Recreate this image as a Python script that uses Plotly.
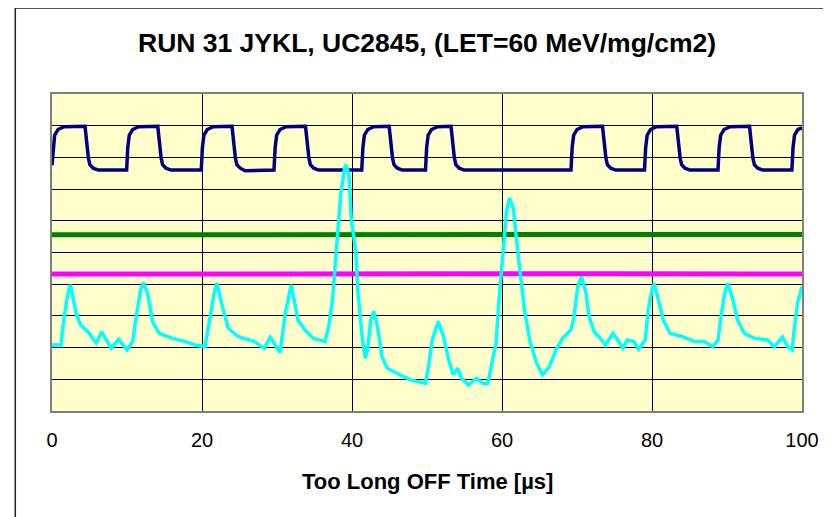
import plotly.graph_objects as go

# ---- data ----
title_text = "RUN 31 JYKL, UC2845, (LET=60 MeV/mg/cm2)"
x_title = "Too Long OFF Time [µs]"
x_ticks = [0, 20, 40, 60, 80, 100]

blue_t = [0.0, 0.15, 0.35, 0.8, 1.6, 4.4, 4.6, 4.85, 5.05, 5.5, 6.15,
          9.95, 10.1, 10.3, 10.75, 11.55, 14.1, 14.3, 14.55, 14.75, 15.2, 15.85,
          19.9, 20.05, 20.25, 20.7, 21.5, 24.0, 24.2, 24.45, 24.65, 25.1, 25.75,
          29.6, 29.75, 29.95, 30.4, 31.2, 33.8, 34.0, 34.25, 34.45, 34.9, 35.55,
          41.3, 41.45, 41.65, 42.1, 42.9, 44.95, 45.15, 45.4, 45.6, 46.05, 46.7,
          49.8, 49.95, 50.15, 50.6, 51.4, 53.2, 53.4, 53.65, 53.85, 54.3, 54.95,
          69.2, 69.35, 69.55, 70.0, 70.8, 73.4, 73.6, 73.85, 74.05, 74.5, 75.15,
          79.0, 79.15, 79.35, 79.8, 80.6, 83.3, 83.5, 83.75, 83.95, 84.4, 85.05,
          88.8, 88.95, 89.15, 89.6, 90.4, 93.0, 93.2, 93.45, 93.65, 94.1, 94.75,
          98.65, 98.8, 99.0, 99.45, 100.0]
blue_v = [7.75, 8.35, 8.7, 8.88, 8.97, 8.98, 8.45, 7.98, 7.77, 7.66, 7.6,
          7.6, 8.3, 8.7, 8.88, 8.97, 8.98, 8.45, 7.98, 7.77, 7.66, 7.6,
          7.6, 8.3, 8.7, 8.88, 8.97, 8.98, 8.45, 7.98, 7.77, 7.66, 7.58,
          7.6, 8.3, 8.7, 8.88, 8.97, 8.98, 8.45, 7.98, 7.77, 7.66, 7.6,
          7.6, 8.3, 8.7, 8.88, 8.97, 8.98, 8.45, 7.98, 7.77, 7.66, 7.6,
          7.6, 8.3, 8.7, 8.88, 8.97, 8.98, 8.45, 7.98, 7.77, 7.66, 7.6,
          7.6, 8.3, 8.7, 8.88, 8.97, 8.98, 8.45, 7.98, 7.77, 7.66, 7.6,
          7.6, 8.3, 8.7, 8.88, 8.97, 8.98, 8.45, 7.98, 7.77, 7.66, 7.6,
          7.6, 8.3, 8.7, 8.88, 8.97, 8.98, 8.45, 7.98, 7.77, 7.66, 7.6,
          7.6, 8.3, 8.7, 8.88, 8.93]

green_t = [0, 25, 50, 75, 100]
green_v = [5.56, 5.56, 5.57, 5.57, 5.57]

magenta_t = [0, 25, 50, 75, 100]
magenta_v = [4.32, 4.33, 4.31, 4.33, 4.32]

cyan_t = [0.0, 1.2, 1.6, 2.2, 2.47, 2.8, 3.2, 3.8, 4.8, 5.9, 6.6, 7.9, 8.9, 9.97,
          10.76, 11.3, 11.8, 12.17, 12.74, 13.4, 14.3, 16.05, 17.8, 19.1, 20.4,
          21.1, 21.6, 22.0, 22.6, 23.5, 24.8, 27.0, 28.3, 29.1, 30.4, 31.1, 31.9,
          32.8, 33.7, 34.9, 36.4, 36.9, 37.4, 37.9, 38.5, 39.0, 39.2, 39.6, 39.9,
          40.5, 40.8, 41.4, 41.8, 42.1, 42.5, 42.9, 43.4, 44.0, 44.7, 46.0, 47.8,
          49.8, 50.2, 50.7, 51.5, 52.2, 52.9, 53.5, 54.1, 54.6, 55.5, 56.6, 57.5,
          58.1, 58.6, 59.2, 59.6, 60.1, 60.6, 61.0, 61.5, 62.1, 62.6, 63.0, 63.7,
          64.6, 65.4, 66.3, 67.2, 68.1, 69.2, 69.6, 70.1, 70.6, 71.2, 71.6, 72.3,
          72.9, 73.8, 74.8, 75.3, 76.1, 76.7, 77.6, 78.2, 79.1, 79.5, 80.0, 80.3,
          80.9, 81.5, 82.4, 84.0, 85.7, 87.0, 88.1, 88.8, 89.2, 89.7, 90.1, 90.8,
          91.4, 92.3, 93.7, 95.4, 96.3, 97.4, 98.1, 98.7, 98.9, 99.4, 100.0]
cyan_v = [2.08, 2.08, 2.95, 3.8, 3.98, 3.6, 3.1, 2.72, 2.5, 2.14, 2.5, 1.98, 2.26, 1.93,
          2.19, 3.08, 3.8, 4.05, 3.72, 2.82, 2.45, 2.29, 2.19, 2.08, 2.03,
          2.98, 3.7, 4.03, 3.4, 2.61, 2.35, 2.19, 1.98, 2.33, 1.84, 3.08, 3.98,
          2.87, 2.56, 2.29, 2.19, 2.66, 3.5, 5.06, 6.82, 7.66, 7.77, 7.45, 6.08,
          5.03, 3.72, 2.24, 1.66, 1.98, 2.87, 3.14, 2.66, 1.71, 1.35, 1.19, 0.98,
          0.87, 1.4, 2.24, 2.82, 2.35, 1.61, 1.14, 1.35, 1.03, 0.82, 1.03, 0.87,
          0.87, 1.4, 2.14, 3.5, 5.05, 6.29, 6.72, 6.4, 5.03, 4.03, 3.19, 2.24,
          1.51, 1.14, 1.4, 1.93, 2.3, 2.56, 2.98, 3.93, 4.24, 3.72, 2.98, 2.5,
          2.35, 2.08, 2.45, 2.29, 1.98, 2.24, 2.19, 1.95, 2.24, 3.19, 3.82, 4.03,
          3.5, 2.87, 2.45, 2.35, 2.19, 2.19, 2.03, 2.24, 2.98, 3.72, 4.03, 3.5,
          2.87, 2.45, 2.29, 2.24, 2.03, 2.33, 2.03, 1.93, 2.45, 3.4, 3.93]

FONT = "Arial, 'Liberation Sans', sans-serif"

# page body has an 8px margin: figure origin is at (8, 8) in the window
W, H = 823, 509
ML, MR, MT, MB = 44, 23, 86, 106
PW = W - ML - MR   # 756
PH = H - MT - MB   # 317


def py(win_y):
    """window y pixel -> paper y"""
    return (411 - win_y) / PH


def px(win_x):
    return (win_x - 52) / PW


fig = go.Figure()
fig.add_trace(go.Scatter(x=blue_t, y=blue_v, mode="lines",
                         line=dict(color="#000080", width=3.5)))
fig.add_trace(go.Scatter(x=green_t, y=green_v, mode="lines",
                         line=dict(color="#008000", width=5)))
fig.add_trace(go.Scatter(x=magenta_t, y=magenta_v, mode="lines",
                         line=dict(color="#FF00FF", width=5)))
fig.add_trace(go.Scatter(x=cyan_t, y=cyan_v, mode="lines",
                         line=dict(color="#00FFFF", width=3.5)))

fig.update_layout(
    width=W, height=H,
    margin=dict(l=ML, r=MR, t=MT, b=MB),
    paper_bgcolor="white",
    plot_bgcolor="#FFFFCC",
    showlegend=False,
    font=dict(family=FONT, color="black"),
    xaxis=dict(range=[0, 100], tickvals=x_ticks, ticktext=[str(v) for v in x_ticks],
               showgrid=True, gridcolor="black", gridwidth=1,
               zeroline=False, showline=True, mirror=True, linecolor="#808080",
               linewidth=1.5, ticks="", ticklabelstandoff=10,
               tickfont=dict(size=20, family=FONT)),
    yaxis=dict(range=[0, 10], dtick=1, showticklabels=False,
               showgrid=True, gridcolor="black", gridwidth=1,
               zeroline=False, showline=True, mirror=True, linecolor="#808080",
               linewidth=1.5, ticks=""),
    annotations=[
        dict(text="<b>" + title_text + "</b>", xref="paper", yref="paper",
             x=0.5, y=py(43), xanchor="center", yanchor="middle",
             showarrow=False, font=dict(size=26.5, family=FONT)),
        dict(text="<b>" + x_title + "</b>", xref="paper", yref="paper",
             x=0.5, y=py(481), xanchor="center", yanchor="middle",
             showarrow=False, font=dict(size=22, family=FONT)),
    ],
    shapes=[
        dict(type="rect", xref="paper", yref="paper",
             x0=px(15), x1=px(845),
             y0=py(530), y1=py(8),
             line=dict(color="#222222", width=1.5), fillcolor="rgba(0,0,0,0)",
             layer="below"),
    ],
)

fig.write_html("out.html")
